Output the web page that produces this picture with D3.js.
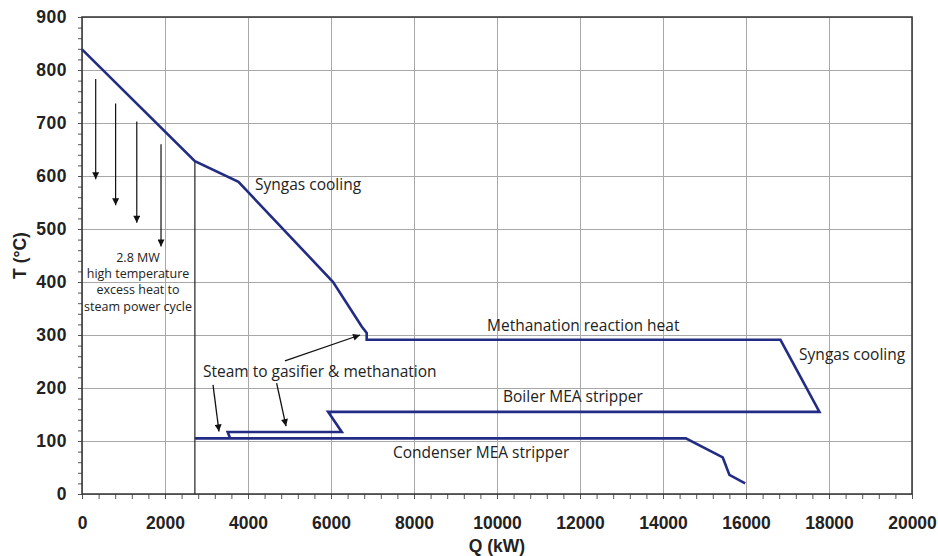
<!DOCTYPE html>
<html lang="en">
<head>
  <meta charset="UTF-8">
  <title>Grand composite curve</title>
  <script src="https://d3js.org/d3.v7.min.js"></script>
  <style>
    body { margin: 0; background: #fff; }
    #chart { width: 938px; height: 556px; }
    .grid line { stroke: #a8a8a8; stroke-width: 1px; }
    .grid path { display: none; }
    .tick-label text { font: bold 17.5px "Liberation Sans", Arial, sans-serif; fill: #222; }
    .minor line { stroke: #555; stroke-width: 1px; }
    .minor path { display: none; }
    .ann { font-family: "Open Sans", "Noto Sans", sans-serif; fill: #222; }
    .title { font: bold 17.5px "Liberation Sans", Arial, sans-serif; fill: #222; }
  </style>
</head>
<body>
  <div id="chart"></div>
  <script>
    // axis ticks
    const xTicks = [0, 2000, 4000, 6000, 8000, 10000, 12000, 14000, 16000, 18000, 20000];
    const yTicks = [0, 100, 200, 300, 400, 500, 600, 700, 800, 900];

    // grand composite curve, Q (kW) / T (°C)
    const curveQ = [0, 2720, 3770, 6050, 6740, 6860, 6860, 16830, 17770, 5930, 6260, 3510, 3570, 2720, 14550, 15440, 15600, 15980];
    const curveT = [839, 628, 589, 400, 316, 304, 291, 291, 155, 155, 117, 117, 105, 105, 105, 69, 36, 20];

    // thin divider at the end of the high temperature part
    const dividerQ = 2720;
    const dividerT = [628, 0];

    // downward arrows for the excess heat (Q, T start, T end)
    const heatArrowQ = [330, 810, 1320, 1904];
    const heatArrowT0 = [783, 737, 703, 660];
    const heatArrowT1 = [594, 545, 512, 467];

    // arrows for the steam annotation [Q0, T0, Q1, T1]
    const steamArrows = [
      [3157, 206, 3301, 118],
      [4690, 209, 4916, 128],
      [4890, 251, 6700, 300]
    ];

    // text labels: text, Q, T (baseline start)
    const labels = [
      ['Syngas cooling', 4170, 574],
      ['Methanation reaction heat', 9760, 308],
      ['Syngas cooling', 17280, 253],
      ['Boiler MEA stripper', 10145, 174],
      ['Condenser MEA stripper', 7494, 68],
      ['Steam to gasifier & methanation', 2916, 221]
    ];
    const noteLines = ['2.8 MW', 'high temperature', 'excess heat to', 'steam power cycle'];

    const W = 938, H = 556;
    const m = { left: 82, right: 26, top: 17, bottom: 62 };
    const iw = W - m.left - m.right, ih = H - m.top - m.bottom;

    const svg = d3.select('#chart').append('svg').attr('width', W).attr('height', H);
    const defs = svg.append('defs');
    defs.append('marker')
      .attr('id', 'head')
      .attr('viewBox', '0 0 10 10')
      .attr('refX', 10).attr('refY', 5)
      .attr('markerWidth', 9).attr('markerHeight', 7)
      .attr('markerUnits', 'userSpaceOnUse')
      .attr('orient', 'auto')
      .append('path').attr('d', 'M0,0L10,5L0,10z').attr('fill', '#111');

    const g = svg.append('g').attr('transform', `translate(${m.left},${m.top})`);

    const x = d3.scaleLinear().domain([0, 20000]).range([0, iw]);
    const y = d3.scaleLinear().domain([0, 900]).range([ih, 0]);

    // grid
    g.append('g').attr('class', 'grid')
      .attr('transform', `translate(0,${ih})`)
      .call(d3.axisBottom(x).tickValues(xTicks).tickSize(-ih).tickFormat(''));
    g.append('g').attr('class', 'grid')
      .call(d3.axisLeft(y).tickValues(yTicks).tickSize(-iw).tickFormat(''));

    // minor ticks
    g.append('g').attr('class', 'minor')
      .attr('transform', `translate(0,${ih})`)
      .call(d3.axisBottom(x).tickValues(d3.range(0, 20001, 400)).tickSize(5).tickFormat(''));
    g.append('g').attr('class', 'minor')
      .call(d3.axisLeft(y).tickValues(d3.range(0, 901, 20)).tickSize(4).tickFormat(''));

    // tick labels
    const xl = g.append('g').attr('class', 'tick-label')
      .attr('transform', `translate(0,${ih})`)
      .call(d3.axisBottom(x).tickValues(xTicks).tickSize(0).tickFormat(d3.format('d')));
    xl.select('.domain').remove();
    xl.selectAll('text').attr('y', 35).attr('dy', 0);
    const yl = g.append('g').attr('class', 'tick-label')
      .call(d3.axisLeft(y).tickValues(yTicks).tickSize(0).tickPadding(15).tickFormat(d3.format('d')));
    yl.select('.domain').remove();
    yl.selectAll('text').attr('letter-spacing', 0.5);

    // frame
    g.append('rect').attr('width', iw).attr('height', ih)
      .attr('fill', 'none').attr('stroke', '#333').attr('stroke-width', 1.5);

    // divider
    g.append('line')
      .attr('x1', x(dividerQ)).attr('x2', x(dividerQ))
      .attr('y1', y(dividerT[0])).attr('y2', y(dividerT[1]))
      .attr('stroke', '#222').attr('stroke-width', 1.2);

    // curve
    const pts = curveQ.map((q, i) => [q, curveT[i]]);
    g.append('path')
      .datum(pts)
      .attr('fill', 'none')
      .attr('stroke', '#232c85')
      .attr('stroke-width', 2.6)
      .attr('stroke-linejoin', 'miter')
      .attr('d', d3.line().x(d => x(d[0])).y(d => y(d[1])));

    // heat arrows
    g.selectAll('.harrow')
      .data(heatArrowQ)
      .join('line')
      .attr('x1', d => x(d)).attr('x2', d => x(d))
      .attr('y1', (d, i) => y(heatArrowT0[i]))
      .attr('y2', (d, i) => y(heatArrowT1[i]))
      .attr('stroke', '#111').attr('stroke-width', 1.2)
      .attr('marker-end', 'url(#head)');

    g.selectAll('.sarrow')
      .data(steamArrows)
      .join('line')
      .attr('x1', d => x(d[0])).attr('y1', d => y(d[1]))
      .attr('x2', d => x(d[2])).attr('y2', d => y(d[3]))
      .attr('stroke', '#111').attr('stroke-width', 1.3)
      .attr('marker-end', 'url(#head)');

    // labels
    g.selectAll('.lbl')
      .data(labels)
      .join('text')
      .attr('class', 'ann')
      .attr('x', d => x(d[1])).attr('y', d => y(d[2]))
      .attr('font-size', 15.5)
      .text(d => d[0]);

    const note = g.append('text').attr('class', 'ann')
      .attr('font-size', 12.5).attr('text-anchor', 'middle');
    note.selectAll('tspan')
      .data(noteLines)
      .join('tspan')
      .attr('x', x(1350))
      .attr('y', (d, i) => y(438) + i * 16.3)
      .text(d => d);

    // axis titles
    svg.append('text').attr('class', 'title')
      .attr('x', m.left + iw / 2).attr('y', 552)
      .attr('text-anchor', 'middle')
      .text('Q (kW)');
    svg.append('text').attr('class', 'title')
      .attr('transform', `translate(26,${m.top + ih / 2}) rotate(-90)`)
      .attr('text-anchor', 'middle')
      .text('T (°C)');
  </script>
</body>
</html>
